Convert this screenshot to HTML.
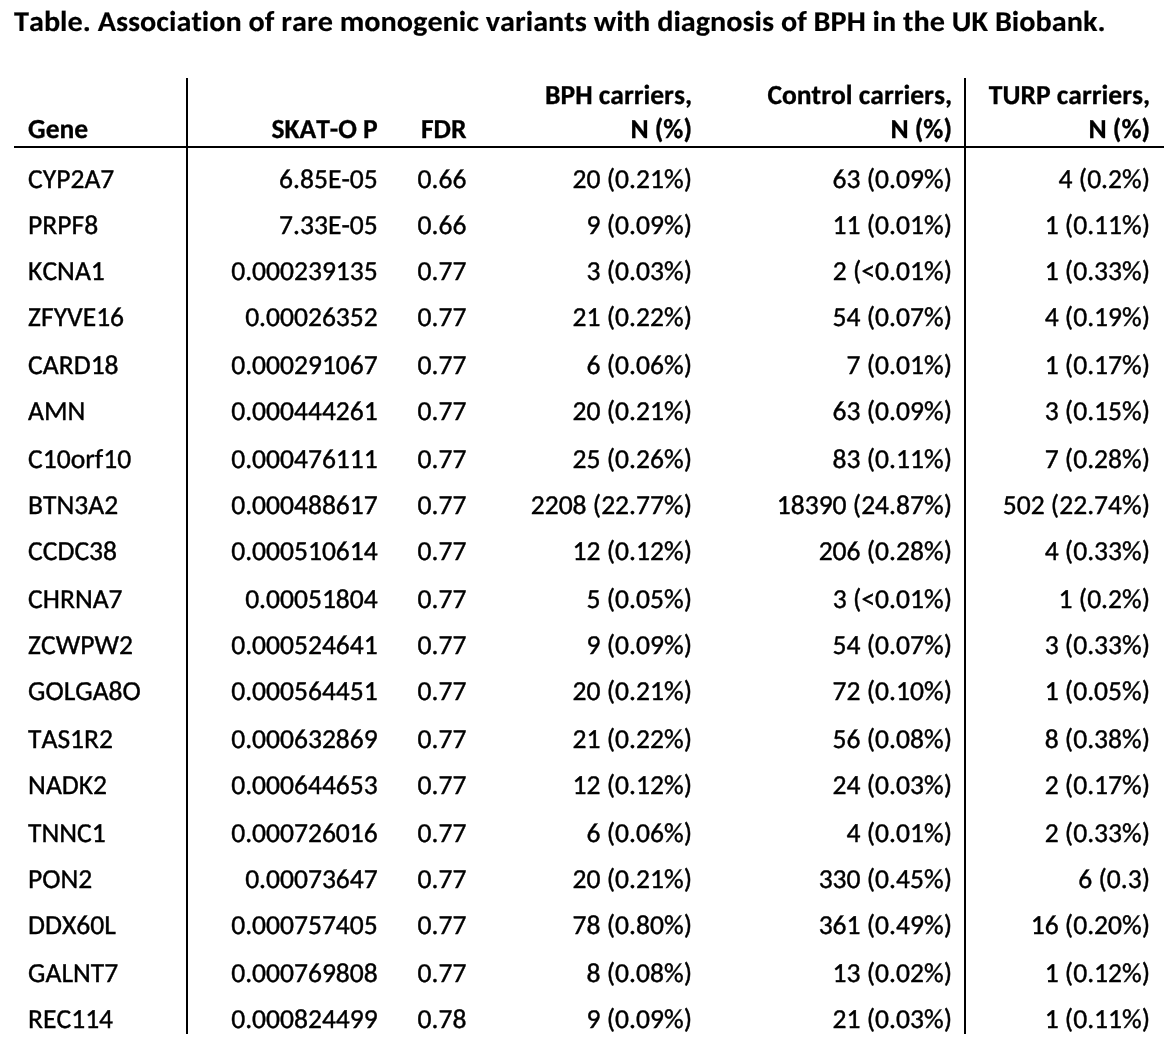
<!DOCTYPE html>
<html><head><meta charset="utf-8"><title>Table</title>
<style>
html,body{margin:0;padding:0;background:#fff;}
#w{position:absolute;left:0;top:0;width:1174px;height:1054px;will-change:transform;text-rendering:geometricPrecision;}
body{width:1174px;height:1054px;position:relative;overflow:hidden;font-family:"Carlito","Liberation Sans",sans-serif;font-size:27.56px;color:#000;}
.t{position:absolute;white-space:nowrap;-webkit-text-stroke:0.4px #000;font-variant-ligatures:none;font-kerning:none;line-height:40px;height:40px;}
.b{font-weight:bold;-webkit-text-stroke-width:0.3px;}
.h{position:absolute;background:#000;}
</style></head><body><div id="w">
<div class="h" style="left:14px;top:146px;width:1150px;height:2px"></div>
<div class="h" style="left:186px;top:78px;width:2px;height:956px"></div>
<div class="h" style="left:964px;top:78px;width:2px;height:956px"></div>
<div class="t b" style="top:2.43px;-webkit-text-stroke-width:0.15px;transform:translateY(0.45px) scaleY(0.95);transform-origin:0 19.37px;left:14.00px;font-size:30.24px;">Table. Association of rare monogenic variants with diagnosis of BPH in the UK Biobank.</div>
<div class="t b" style="top:110.23px;left:28.10px;">Gene</div>
<div class="t b" style="top:110.23px;right:796.25px;text-align:right;">SKAT-O P</div>
<div class="t b" style="top:110.23px;right:707.60px;text-align:right;">FDR</div>
<div class="t b" style="top:75.93px;right:482.00px;text-align:right;">BPH carriers,</div>
<div class="t b" style="top:110.23px;right:482.00px;text-align:right;">N (%)</div>
<div class="t b" style="top:75.93px;right:222.00px;text-align:right;">Control carriers,</div>
<div class="t b" style="top:110.23px;right:222.00px;text-align:right;">N (%)</div>
<div class="t b" style="top:75.93px;right:23.95px;text-align:right;">TURP carriers,</div>
<div class="t b" style="top:110.23px;right:23.95px;text-align:right;">N (%)</div>
<div class="t" style="top:160.23px;left:28.10px;">CYP2A7</div>
<div class="t" style="top:160.23px;right:796.25px;text-align:right;">6.85E-05</div>
<div class="t" style="top:160.23px;right:707.60px;text-align:right;">0.66</div>
<div class="t" style="top:160.23px;right:482.00px;text-align:right;">20 (0.21%)</div>
<div class="t" style="top:160.23px;right:222.00px;text-align:right;">63 (0.09%)</div>
<div class="t" style="top:160.23px;right:23.95px;text-align:right;">4 (0.2%)</div>
<div class="t" style="top:206.23px;left:28.10px;">PRPF8</div>
<div class="t" style="top:206.23px;right:796.25px;text-align:right;">7.33E-05</div>
<div class="t" style="top:206.23px;right:707.60px;text-align:right;">0.66</div>
<div class="t" style="top:206.23px;right:482.00px;text-align:right;">9 (0.09%)</div>
<div class="t" style="top:206.23px;right:222.00px;text-align:right;">11 (0.01%)</div>
<div class="t" style="top:206.23px;right:23.95px;text-align:right;">1 (0.11%)</div>
<div class="t" style="top:252.23px;left:28.10px;">KCNA1</div>
<div class="t" style="top:252.23px;right:796.25px;text-align:right;">0.000239135</div>
<div class="t" style="top:252.23px;right:707.60px;text-align:right;">0.77</div>
<div class="t" style="top:252.23px;right:482.00px;text-align:right;">3 (0.03%)</div>
<div class="t" style="top:252.23px;right:222.00px;text-align:right;">2 (&lt;0.01%)</div>
<div class="t" style="top:252.23px;right:23.95px;text-align:right;">1 (0.33%)</div>
<div class="t" style="top:298.23px;left:28.10px;">ZFYVE16</div>
<div class="t" style="top:298.23px;right:796.25px;text-align:right;">0.00026352</div>
<div class="t" style="top:298.23px;right:707.60px;text-align:right;">0.77</div>
<div class="t" style="top:298.23px;right:482.00px;text-align:right;">21 (0.22%)</div>
<div class="t" style="top:298.23px;right:222.00px;text-align:right;">54 (0.07%)</div>
<div class="t" style="top:298.23px;right:23.95px;text-align:right;">4 (0.19%)</div>
<div class="t" style="top:346.23px;left:28.10px;">CARD18</div>
<div class="t" style="top:346.23px;right:796.25px;text-align:right;">0.000291067</div>
<div class="t" style="top:346.23px;right:707.60px;text-align:right;">0.77</div>
<div class="t" style="top:346.23px;right:482.00px;text-align:right;">6 (0.06%)</div>
<div class="t" style="top:346.23px;right:222.00px;text-align:right;">7 (0.01%)</div>
<div class="t" style="top:346.23px;right:23.95px;text-align:right;">1 (0.17%)</div>
<div class="t" style="top:392.23px;left:28.10px;">AMN</div>
<div class="t" style="top:392.23px;right:796.25px;text-align:right;">0.000444261</div>
<div class="t" style="top:392.23px;right:707.60px;text-align:right;">0.77</div>
<div class="t" style="top:392.23px;right:482.00px;text-align:right;">20 (0.21%)</div>
<div class="t" style="top:392.23px;right:222.00px;text-align:right;">63 (0.09%)</div>
<div class="t" style="top:392.23px;right:23.95px;text-align:right;">3 (0.15%)</div>
<div class="t" style="top:440.23px;left:28.10px;">C10orf10</div>
<div class="t" style="top:440.23px;right:796.25px;text-align:right;">0.000476111</div>
<div class="t" style="top:440.23px;right:707.60px;text-align:right;">0.77</div>
<div class="t" style="top:440.23px;right:482.00px;text-align:right;">25 (0.26%)</div>
<div class="t" style="top:440.23px;right:222.00px;text-align:right;">83 (0.11%)</div>
<div class="t" style="top:440.23px;right:23.95px;text-align:right;">7 (0.28%)</div>
<div class="t" style="top:486.23px;left:28.10px;">BTN3A2</div>
<div class="t" style="top:486.23px;right:796.25px;text-align:right;">0.000488617</div>
<div class="t" style="top:486.23px;right:707.60px;text-align:right;">0.77</div>
<div class="t" style="top:486.23px;right:482.00px;text-align:right;">2208 (22.77%)</div>
<div class="t" style="top:486.23px;right:222.00px;text-align:right;">18390 (24.87%)</div>
<div class="t" style="top:486.23px;right:23.95px;text-align:right;">502 (22.74%)</div>
<div class="t" style="top:532.23px;left:28.10px;">CCDC38</div>
<div class="t" style="top:532.23px;right:796.25px;text-align:right;">0.000510614</div>
<div class="t" style="top:532.23px;right:707.60px;text-align:right;">0.77</div>
<div class="t" style="top:532.23px;right:482.00px;text-align:right;">12 (0.12%)</div>
<div class="t" style="top:532.23px;right:222.00px;text-align:right;">206 (0.28%)</div>
<div class="t" style="top:532.23px;right:23.95px;text-align:right;">4 (0.33%)</div>
<div class="t" style="top:580.23px;left:28.10px;">CHRNA7</div>
<div class="t" style="top:580.23px;right:796.25px;text-align:right;">0.00051804</div>
<div class="t" style="top:580.23px;right:707.60px;text-align:right;">0.77</div>
<div class="t" style="top:580.23px;right:482.00px;text-align:right;">5 (0.05%)</div>
<div class="t" style="top:580.23px;right:222.00px;text-align:right;">3 (&lt;0.01%)</div>
<div class="t" style="top:580.23px;right:23.95px;text-align:right;">1 (0.2%)</div>
<div class="t" style="top:626.23px;left:28.10px;">ZCWPW2</div>
<div class="t" style="top:626.23px;right:796.25px;text-align:right;">0.000524641</div>
<div class="t" style="top:626.23px;right:707.60px;text-align:right;">0.77</div>
<div class="t" style="top:626.23px;right:482.00px;text-align:right;">9 (0.09%)</div>
<div class="t" style="top:626.23px;right:222.00px;text-align:right;">54 (0.07%)</div>
<div class="t" style="top:626.23px;right:23.95px;text-align:right;">3 (0.33%)</div>
<div class="t" style="top:672.23px;left:28.10px;">GOLGA8O</div>
<div class="t" style="top:672.23px;right:796.25px;text-align:right;">0.000564451</div>
<div class="t" style="top:672.23px;right:707.60px;text-align:right;">0.77</div>
<div class="t" style="top:672.23px;right:482.00px;text-align:right;">20 (0.21%)</div>
<div class="t" style="top:672.23px;right:222.00px;text-align:right;">72 (0.10%)</div>
<div class="t" style="top:672.23px;right:23.95px;text-align:right;">1 (0.05%)</div>
<div class="t" style="top:720.23px;left:28.10px;">TAS1R2</div>
<div class="t" style="top:720.23px;right:796.25px;text-align:right;">0.000632869</div>
<div class="t" style="top:720.23px;right:707.60px;text-align:right;">0.77</div>
<div class="t" style="top:720.23px;right:482.00px;text-align:right;">21 (0.22%)</div>
<div class="t" style="top:720.23px;right:222.00px;text-align:right;">56 (0.08%)</div>
<div class="t" style="top:720.23px;right:23.95px;text-align:right;">8 (0.38%)</div>
<div class="t" style="top:766.23px;left:28.10px;">NADK2</div>
<div class="t" style="top:766.23px;right:796.25px;text-align:right;">0.000644653</div>
<div class="t" style="top:766.23px;right:707.60px;text-align:right;">0.77</div>
<div class="t" style="top:766.23px;right:482.00px;text-align:right;">12 (0.12%)</div>
<div class="t" style="top:766.23px;right:222.00px;text-align:right;">24 (0.03%)</div>
<div class="t" style="top:766.23px;right:23.95px;text-align:right;">2 (0.17%)</div>
<div class="t" style="top:814.23px;left:28.10px;">TNNC1</div>
<div class="t" style="top:814.23px;right:796.25px;text-align:right;">0.000726016</div>
<div class="t" style="top:814.23px;right:707.60px;text-align:right;">0.77</div>
<div class="t" style="top:814.23px;right:482.00px;text-align:right;">6 (0.06%)</div>
<div class="t" style="top:814.23px;right:222.00px;text-align:right;">4 (0.01%)</div>
<div class="t" style="top:814.23px;right:23.95px;text-align:right;">2 (0.33%)</div>
<div class="t" style="top:860.23px;left:28.10px;">PON2</div>
<div class="t" style="top:860.23px;right:796.25px;text-align:right;">0.00073647</div>
<div class="t" style="top:860.23px;right:707.60px;text-align:right;">0.77</div>
<div class="t" style="top:860.23px;right:482.00px;text-align:right;">20 (0.21%)</div>
<div class="t" style="top:860.23px;right:222.00px;text-align:right;">330 (0.45%)</div>
<div class="t" style="top:860.23px;right:23.95px;text-align:right;">6 (0.3)</div>
<div class="t" style="top:906.23px;left:28.10px;">DDX60L</div>
<div class="t" style="top:906.23px;right:796.25px;text-align:right;">0.000757405</div>
<div class="t" style="top:906.23px;right:707.60px;text-align:right;">0.77</div>
<div class="t" style="top:906.23px;right:482.00px;text-align:right;">78 (0.80%)</div>
<div class="t" style="top:906.23px;right:222.00px;text-align:right;">361 (0.49%)</div>
<div class="t" style="top:906.23px;right:23.95px;text-align:right;">16 (0.20%)</div>
<div class="t" style="top:954.23px;left:28.10px;">GALNT7</div>
<div class="t" style="top:954.23px;right:796.25px;text-align:right;">0.000769808</div>
<div class="t" style="top:954.23px;right:707.60px;text-align:right;">0.77</div>
<div class="t" style="top:954.23px;right:482.00px;text-align:right;">8 (0.08%)</div>
<div class="t" style="top:954.23px;right:222.00px;text-align:right;">13 (0.02%)</div>
<div class="t" style="top:954.23px;right:23.95px;text-align:right;">1 (0.12%)</div>
<div class="t" style="top:1000.23px;left:28.10px;">REC114</div>
<div class="t" style="top:1000.23px;right:796.25px;text-align:right;">0.000824499</div>
<div class="t" style="top:1000.23px;right:707.60px;text-align:right;">0.78</div>
<div class="t" style="top:1000.23px;right:482.00px;text-align:right;">9 (0.09%)</div>
<div class="t" style="top:1000.23px;right:222.00px;text-align:right;">21 (0.03%)</div>
<div class="t" style="top:1000.23px;right:23.95px;text-align:right;">1 (0.11%)</div>
</div></body></html>
